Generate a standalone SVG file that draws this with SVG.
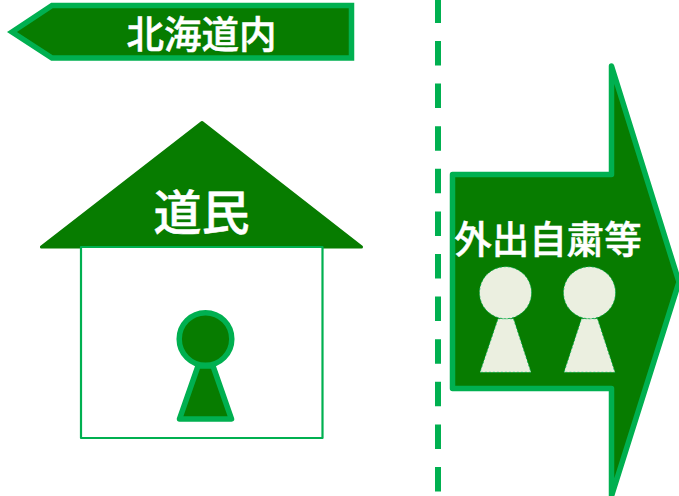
<svg xmlns="http://www.w3.org/2000/svg" width="679" height="496" viewBox="0 0 679 496">
<style>
.s{stroke:#00b050;fill:#077c00;stroke-linejoin:round}
.p{fill:#ebefe0;stroke:#00b050;stroke-width:.8;stroke-dasharray:2 2}
text{font-family:"Noto Sans CJK JP","Noto Sans",sans-serif;font-weight:500;fill:#fff;stroke:#fff;stroke-width:.5;text-anchor:middle}
</style>
<rect width="679" height="496" fill="#fff"/>
<g id="connectors"><line x1="438" y1="-1.6" x2="438" y2="496" stroke="#00b050" stroke-width="6" stroke-dasharray="24.5 18.1"/></g>
<g id="hokkaido-arrow"><path class="s" d="M12 32L52 5.500H351.500V58H52Z" stroke-width="5.500" style="stroke-linejoin:miter"/><text x="201.500" y="48" font-size="37.500">北海道内</text></g>
<g id="house"><path d="M202 122.500L41.500 247H361.500Z" fill="#077c00" stroke="#077c00" stroke-width="3" stroke-linejoin="round"/><rect x="81" y="247" width="241.500" height="191" fill="#fff" stroke="#00b050" stroke-width="2.200" stroke-linejoin="round"/><text x="201.500" y="230" font-size="48">道民</text></g>
<g id="resident"><path class="s" d="M198 366H213L231.500 419H179.500Z" stroke-width="5.500"/><circle class="s" cx="205.500" cy="339" r="26.300" stroke-width="5.500"/></g>
<g id="outing-arrow"><path class="s" d="M452.500 174.500H611.500V66L679 282L611.500 496V388.500H452.500Z" stroke-width="5.500"/><text x="548" y="253" font-size="37.500">外出自粛等</text></g>
<g id="person1"><path class="p" d="M498 318.700H513.500L531 372.300H480Z"/><circle class="p" cx="505.500" cy="292.700" r="26"/></g>
<g id="person2"><path class="p" d="M581.500 318.700H597.500L615 372.300H564Z"/><circle class="p" cx="589.500" cy="292.700" r="26"/></g>
</svg>
